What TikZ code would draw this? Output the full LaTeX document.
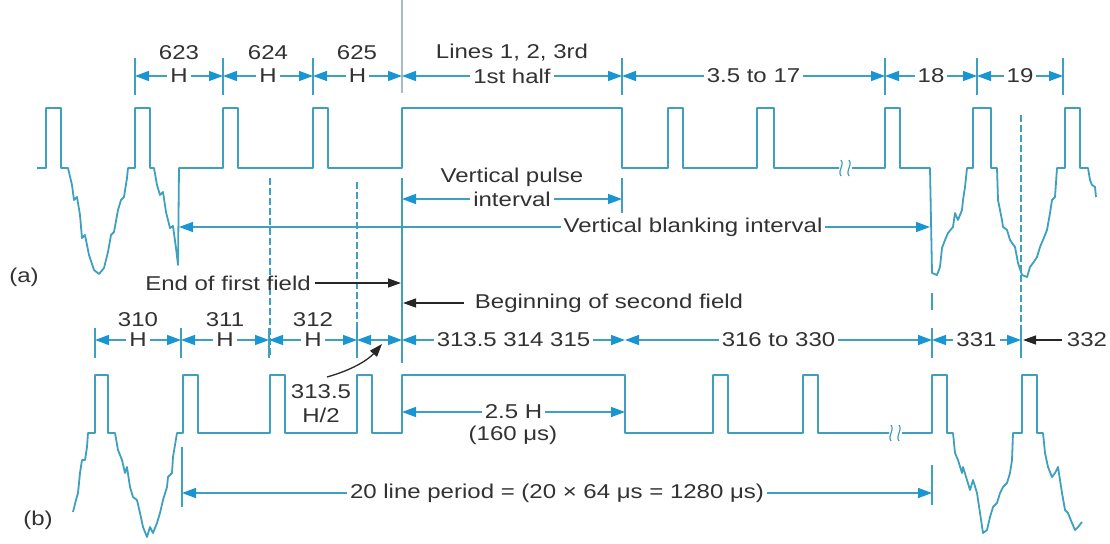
\documentclass[tikz,border=0pt]{standalone}
\usepackage{fontspec}
\setmainfont{Liberation Sans}[FakeStretch=1.2]
\usetikzlibrary{arrows.meta}
\definecolor{wv}{RGB}{62,160,190}
\definecolor{ah}{RGB}{25,150,210}
\definecolor{tx}{RGB}{50,50,50}
\definecolor{topln}{RGB}{165,188,200}
\begin{document}
\begin{tikzpicture}[x=1pt,y=-1pt,
  wave/.style={draw=wv,line width=1.8pt,line join=round},
  tickln/.style={draw=wv,line width=1.3pt},
  dsh/.style={draw=wv,line width=1.3pt,dash pattern=on 7pt off 3pt},
  dimarr/.style={draw=wv,line width=1.5pt,{Triangle[length=14pt,width=10pt,color=ah]}-{Triangle[length=14pt,width=10pt,color=ah]}},
  lbl/.style={font=\fontsize{20}{22}\selectfont,text=tx,inner sep=1pt},
  onl/.style={lbl,fill=white,inner xsep=3pt,inner ysep=0pt},
  blk/.style={draw=black!85,line width=1.3pt,-{Triangle[length=13pt,width=9pt]}},
  brk/.style={draw=wv,line width=1.2pt}
]
\useasboundingbox (0,0) rectangle (1110,543);

% ---------- coordinates of dimension ticks ----------
\coordinate (a1) at (135,76);  \coordinate (a2) at (223,76);
\coordinate (a3) at (313,76);  \coordinate (a4) at (402,76);
\coordinate (a5) at (622,76);  \coordinate (a6) at (885,76);
\coordinate (a7) at (977,76);  \coordinate (a8) at (1063,76);
\coordinate (b1) at (95,340);  \coordinate (b2) at (181,340);
\coordinate (b3) at (269,340); \coordinate (b4) at (357,340);
\coordinate (b5) at (402,340); \coordinate (b6) at (625,340);
\coordinate (b7) at (932,340); \coordinate (b8) at (1021,340);

% ---------- ticks and guide lines ----------
\draw[draw=topln,line width=1.8pt] (402,0) -- (402,93);
\foreach \x in {135,223,313,622,885,977,1063} \draw[tickln] (\x,58) -- (\x,95);
\foreach \x in {95,181,269,357,932,1021} \draw[tickln] (\x,328) -- (\x,358);
\draw[dsh] (270,178) -- (270,357);
\draw[dsh] (357,182) -- (357,357);
\draw[dsh] (1021,115) -- (1021,358);
\draw[tickln] (932,293) -- (932,310);
\draw[tickln] (402,178) -- (402,363);
\draw[tickln] (622,178) -- (622,213);
\draw[tickln] (182,447) -- (182,507);
\draw[tickln] (932,465) -- (932,505);

% ---------- waveform (a) ----------
\draw[wave] (37,168) -- (46,168) -- (46,108) -- (61,108) -- (61,168) -- (68,168)
 -- (72,185) -- (74,200) -- (77,197) -- (80,215) -- (82,238) -- (85,235) -- (89,255)
 -- (94,270) -- (99,274) -- (104,268) -- (108,252) -- (111,235) -- (114,232) -- (118,210)
 -- (121,200) -- (124,197) -- (127,178) -- (128,168) -- (135,168) -- (135,108) -- (150,108)
 -- (150,168) -- (154,168) -- (157,185) -- (160,195) -- (163,192) -- (166,212) -- (170,228)
 -- (173,226) -- (176,248) -- (178,265) -- (179,168) -- (223,168) -- (223,108) -- (238,108)
 -- (238,168) -- (313,168) -- (313,108) -- (328,108) -- (328,168) -- (402,168) -- (402,108)
 -- (622,108) -- (622,168) -- (668,168) -- (668,108) -- (683,108) -- (683,168) -- (757,168)
 -- (757,108) -- (774,108) -- (774,168) -- (839,168);
\draw[wave] (852,168) -- (885,168) -- (885,108) -- (900,108) -- (900,168) -- (930,168)
 -- (932,273) -- (937,275) -- (940,267) -- (942,248) -- (945,240) -- (948,233) -- (953,227)
 -- (955,213) -- (958,220) -- (962,210) -- (963,200) -- (965,187) -- (967,168) -- (973,168)
 -- (973,108) -- (991,108) -- (991,168) -- (997,168) -- (998,200) -- (1002,220) -- (1003,227)
 -- (1007,230) -- (1010,240) -- (1012,243) -- (1015,247) -- (1018,263) -- (1022,275)
 -- (1027,277) -- (1030,267) -- (1033,263) -- (1037,257) -- (1040,247) -- (1043,240)
 -- (1047,230) -- (1050,213) -- (1052,200) -- (1055,197) -- (1057,168) -- (1065,168)
 -- (1065,108) -- (1080,108) -- (1080,168) -- (1088,168) -- (1090,180) -- (1092,185)
 -- (1095,187) -- (1096,197);
\draw[brk] (841,176) .. controls (837,170) and (845,166) .. (841,160);
\draw[brk] (849,176) .. controls (845,170) and (853,166) .. (849,160);

% ---------- waveform (b) ----------
\draw[wave] (73,512) -- (76,500) -- (78,493) -- (80,473) -- (82,460) -- (85,460) -- (87,447)
 -- (88,433) -- (95,433) -- (95,375) -- (108,375) -- (108,433) -- (115,433) -- (118,450)
 -- (122,460) -- (125,473) -- (127,467) -- (130,487) -- (133,497) -- (137,500) -- (140,513)
 -- (143,527) -- (147,537) -- (150,527) -- (153,533) -- (157,523) -- (160,513) -- (163,500)
 -- (167,487) -- (168,477) -- (172,473) -- (173,457) -- (177,433) -- (183,433) -- (183,375)
 -- (198,375) -- (198,433) -- (270,433) -- (270,375) -- (285,375) -- (285,433) -- (357,433)
 -- (357,375) -- (372,375) -- (372,433) -- (402,433) -- (402,375) -- (625,375) -- (625,433)
 -- (713,433) -- (713,375) -- (728,375) -- (728,433) -- (803,433) -- (803,375) -- (818,375)
 -- (818,433) -- (889,433);
\draw[wave] (902,433) -- (932,433) -- (932,375) -- (947,375) -- (947,433) -- (953,433)
 -- (955,453) -- (958,460) -- (962,473) -- (963,467) -- (967,480) -- (970,490) -- (973,480)
 -- (977,493) -- (980,513) -- (983,533) -- (987,530) -- (990,517) -- (993,507) -- (997,503)
 -- (1000,493) -- (1003,487) -- (1007,483) -- (1010,473) -- (1012,460) -- (1013,433)
 -- (1022,433) -- (1022,375) -- (1037,375) -- (1037,433) -- (1043,433) -- (1045,453)
 -- (1048,467) -- (1052,477) -- (1055,473) -- (1058,467) -- (1062,493) -- (1065,510)
 -- (1068,513) -- (1072,523) -- (1075,530) -- (1078,527) -- (1082,522);
\draw[brk] (891,441) .. controls (887,435) and (895,431) .. (891,425);
\draw[brk] (899,441) .. controls (895,435) and (903,431) .. (899,425);

% ---------- dimension lines row (a) ----------
\draw[dimarr] (a1) -- node[onl] (ha1) {H} (a2);
\draw[dimarr] (a2) -- node[onl] (ha2) {H} (a3);
\draw[dimarr] (a3) -- node[onl] (ha3) {H} (a4);
\draw[dimarr] (a4) -- node[onl] (half) {1st half} (a5);
\draw[dimarr] (a5) -- node[onl] (l35) {3.5 to 17} (a6);
\draw[dimarr] (a6) -- node[onl] (l18) {18} (a7);
\draw[dimarr] (a7) -- node[onl] (l19) {19} (a8);
\node[lbl] (l623) at (179,53) {623};
\node[lbl] (l624) at (268,53) {624};
\node[lbl] (l625) at (357,53) {625};
\node[lbl] (lines) at (512,53) {Lines 1, 2, 3rd};

% ---------- intervals of (a) ----------
\coordinate (vp1) at (402,199); \coordinate (vp2) at (622,199);
\draw[dimarr] (vp1) -- node[onl] (intv) {interval} (vp2);
\node[lbl] (vpulse) at (512,177) {Vertical pulse};
\coordinate (vb1) at (179,227); \coordinate (vb2) at (930,227);
\draw[dimarr] (vb1) -- (vb2);
\node[onl] (vbl) at (693,227) {Vertical blanking interval};
\node[lbl] (la) at (24,277) {(a)};

\node[lbl] (endff) at (228,283) {End of first field};
\coordinate (e1) at (401,283);
\draw[blk] ([xshift=3pt]endff.east) -- (e1);
\node[lbl] (begsf) at (609,303) {Beginning of second field};
\coordinate (e2) at (403,303);
\draw[blk] ([xshift=-10pt]begsf.west) -- (e2);

% ---------- dimension lines row (b) ----------
\draw[dimarr] (b1) -- node[onl] (hb1) {H} (b2);
\draw[dimarr] (b2) -- node[onl] (hb2) {H} (b3);
\draw[dimarr] (b3) -- node[onl] (hb3) {H} (b4);
\draw[dimarr] (b4) -- (b5);
\draw[dimarr] (b5) -- node[onl] (l3135) {313.5 314 315} (b6);
\draw[dimarr] (b6) -- node[onl] (l316) {316 to 330} (b7);
\draw[dimarr] (b7) -- node[onl] (l331) {331} (b8);
\node[lbl] (l310) at (138,320) {310};
\node[lbl] (l311) at (225,320) {311};
\node[lbl] (l312) at (313,320) {312};
\node[lbl] (l332) at (1087,340) {332};
\coordinate (e3) at (1023,340);
\draw[blk] ([xshift=-4pt]l332.west) -- (e3);

\node[lbl] (n3135) at (321,392) {313.5};
\node[lbl] (nh2) at (321,415) {H/2};
\coordinate (e4) at (382,344);
\draw[blk] (327,377) .. controls (352,370) and (368,360) .. (e4);

% ---------- intervals of (b) ----------
\coordinate (p1) at (402,412); \coordinate (p2) at (625,412);
\draw[dimarr] (p1) -- node[onl] (l25) {2.5 H} (p2);
\node[lbl] (l160) at (513,435) {(160 μs)};
\coordinate (t1) at (182,493); \coordinate (t2) at (932,493);
\draw[dimarr] (t1) -- node[onl] (l20) {20 line period = (20 × 64 μs = 1280 μs)} (t2);
\node[lbl] (lb) at (38,520) {(b)};
\end{tikzpicture}
\end{document}
